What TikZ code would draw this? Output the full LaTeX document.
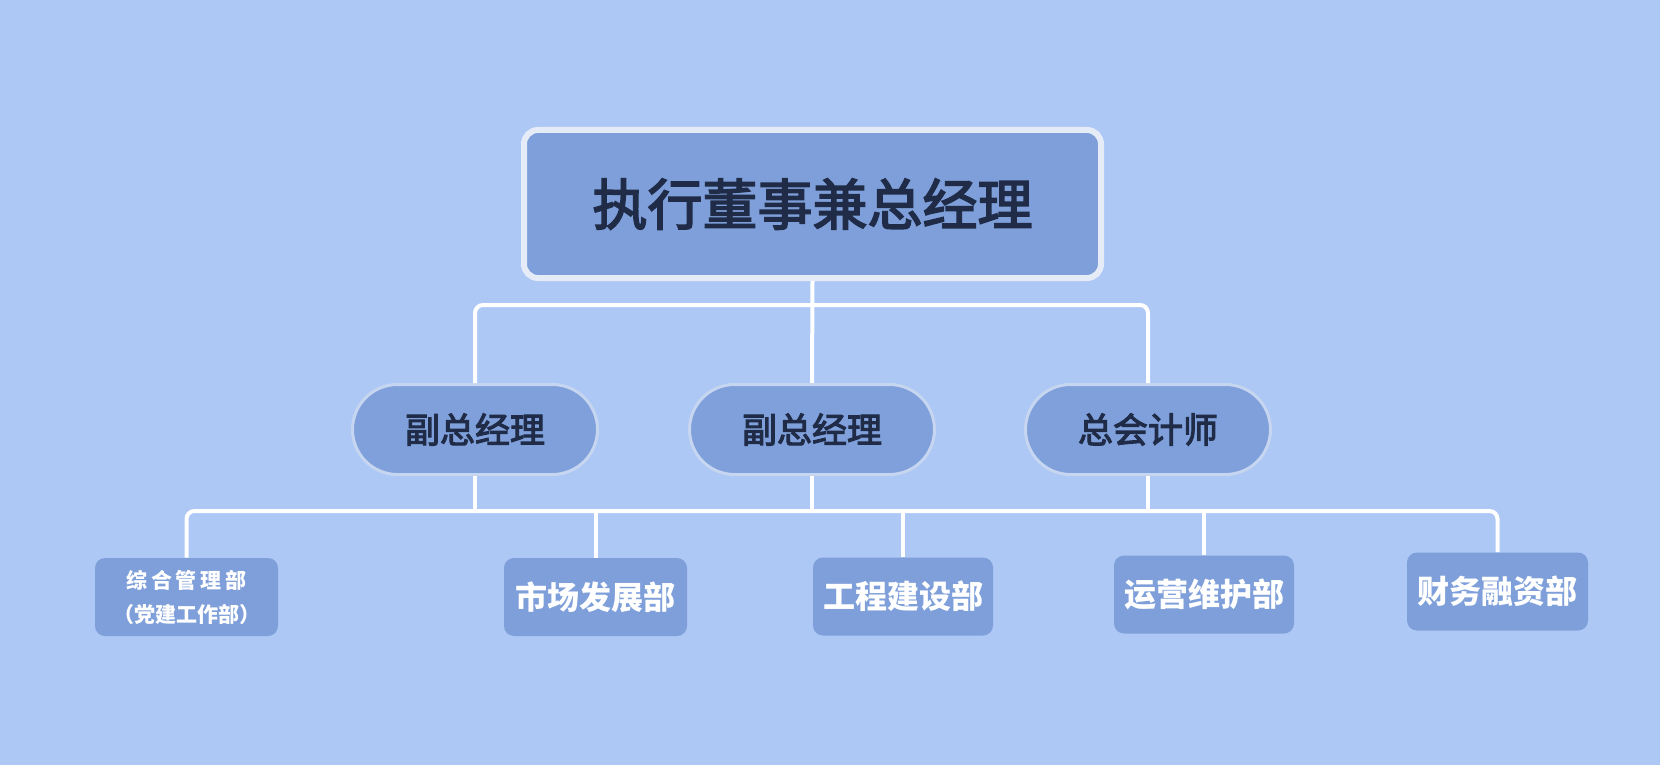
\documentclass[tikz,border=0pt]{standalone}
\usepackage{fontspec}
\newfontfamily\cjk{Noto Sans CJK SC}
\newfontfamily\cjkm{Noto Sans CJK SC}[FakeBold=3]
\newfontfamily\cjkls{Noto Sans CJK SC}[LetterSpace=18]
\definecolor{bgblue}{HTML}{ADC8F5}
\definecolor{boxblue}{HTML}{7E9FD9}
\definecolor{pillblue}{HTML}{7FA0DA}
\definecolor{rimgray}{HTML}{E6ECF7}
\definecolor{pillrim}{HTML}{C6D6F0}
\definecolor{inkblue}{HTML}{1F2B47}
\begin{document}
\begin{tikzpicture}[x=0.5pt,y=-0.5pt,
  topbox/.style={draw=rimgray,line width=3pt,fill=boxblue,rounded corners=7pt,
    minimum width=288.5pt,minimum height=74pt,inner sep=0pt,text=inkblue,
    font=\cjkm\fontsize{27.5pt}{30pt}\selectfont},
  pill/.style={draw=pillrim,line width=1.5pt,fill=pillblue,rounded corners=22.5pt,
    minimum width=122.5pt,minimum height=45pt,inner sep=0pt,text=inkblue,
    font=\cjkm\fontsize{17.5pt}{20pt}\selectfont},
  dept/.style={fill=boxblue,rounded corners=5pt,minimum height=39pt,
    inner sep=0pt,text=white,font=\cjk\bfseries\fontsize{16pt}{18pt}\selectfont},
  link/.style={draw=white,line width=2pt,rounded corners=4pt}]
\fill[bgblue] (0,0) rectangle (1660,765);
\useasboundingbox (0,0) rectangle (1660,765);
\node[topbox] (top) at (812.5,204) {执行董事兼总经理};
\node[pill] (p1) at (475,429.5) {副总经理};
\node[pill] (p2) at (812,429.5) {副总经理};
\node[pill] (p3) at (1148,429.5) {总会计师};
\node[dept,minimum width=91.5pt,align=center,
  font=\cjk\bfseries\fontsize{10.5pt}{17pt}\selectfont] (d1) at (186.5,597)
  {{\cjkls\bfseries 综合管理部}\\（党建工作部）};
\node[dept,minimum width=91.5pt] (d2) at (595.5,597) {市场发展部};
\node[dept,minimum width=90pt] (d3) at (903,596.5) {工程建设部};
\node[dept,minimum width=90pt] (d4) at (1204,594.5) {运营维护部};
\node[dept,minimum width=90.5pt] (d5) at (1497.5,591.5) {财务融资部};
\coordinate (bar1) at (812,305);
\coordinate (bar2) at (812,511);
\path[link] (p1.north) -- (p1.north |- bar1) -- (p3.north |- bar1) -- (p3.north);
\path[link] (top.south) -- (p2.north);
\path[link] (d1.north) -- (d1.north |- bar2) -- (d5.north |- bar2) -- (d5.north);
\path[link] (p1.south) -- (p1.south |- bar2);
\path[link] (p2.south) -- (p2.south |- bar2);
\path[link] (p3.south) -- (p3.south |- bar2);
\path[link] (d2.north) -- (d2.north |- bar2);
\path[link] (d3.north) -- (d3.north |- bar2);
\path[link] (d4.north) -- (d4.north |- bar2);
\end{tikzpicture}
\end{document}
